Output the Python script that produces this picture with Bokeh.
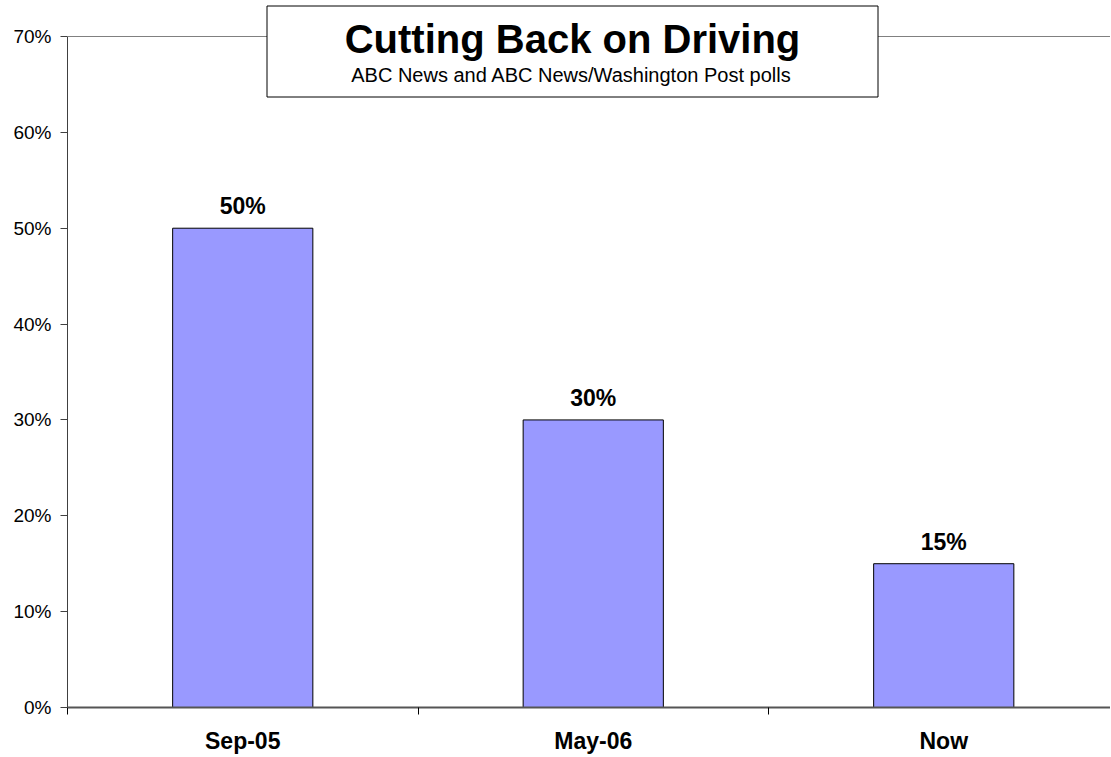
from bokeh.plotting import figure
from bokeh.models import (Range1d, FixedTicker, PrintfTickFormatter, Span,
                          BoxAnnotation, Label, ColumnDataSource)
from bokeh.core.properties import value
from bokeh.embed import file_html
from bokeh.resources import INLINE

categories = ["Sep-05", "May-06", "Now"]
values = [50, 30, 15]
y_ticks = [0, 10, 20, 30, 40, 50, 60, 70]
title_text = "Cutting Back on Driving"
subtitle_text = "ABC News and ABC News/Washington Post polls"

FONT = "Liberation Sans"

x_pos = [i + 0.5 for i in range(len(categories))]
bounds = [float(i) for i in range(len(categories) + 1)]
labels = [f"{v}%" for v in values]
src = ColumnDataSource(dict(x=x_pos, top=values, label=labels))

W, H = 1110, 756
LB, TB, BB = 67, 4, 49
frame_h = H - TB - BB
px_per_unit = (frame_h - 32) / 70.0
y_end = frame_h / px_per_unit

p = figure(width=W, height=H, output_backend="svg", toolbar_location=None,
           x_range=Range1d(0, (W - LB) / 350.5), y_range=Range1d(0, y_end),
           min_border_left=LB, min_border_right=0, min_border_top=TB,
           min_border_bottom=BB, background_fill_color="white",
           border_fill_color="white")
p.outline_line_color = None
p.xgrid.visible = False
p.ygrid.visible = False

p.vbar(x="x", top="top", width=0.4, bottom=0, source=src,
       fill_color="#9999FF", line_color="black", line_width=1)
p.text(x="x", y="top", text="label", source=src, text_align="center",
       text_baseline="alphabetic", y_offset=-22, text_font=value(FONT),
       text_font_style="bold", text_font_size="23px", text_color="black")

# x axis
xa = p.xaxis[0]
xa.ticker = FixedTicker(ticks=x_pos, minor_ticks=bounds)
xa.major_label_overrides = {x: c for x, c in zip(x_pos, categories)}
xa.major_tick_out = 0
xa.major_tick_in = 0
xa.minor_tick_out = 7
xa.minor_tick_in = 0
xa.minor_tick_line_color = "black"
xa.axis_line_color = "#555555"
xa.axis_line_width = 2
xa.major_label_standoff = 13
xa.major_label_text_font = FONT
xa.major_label_text_font_style = "bold"
xa.major_label_text_font_size = "23px"
xa.major_label_text_color = "black"

# y axis
ya = p.yaxis[0]
ya.bounds = (0, 70)
ya.ticker = FixedTicker(ticks=y_ticks, minor_ticks=[])
ya.formatter = PrintfTickFormatter(format="%d%%")
ya.major_tick_out = 7
ya.major_tick_in = 0
ya.major_tick_line_color = "#404040"
ya.axis_line_color = "#404040"
ya.major_label_standoff = 9
ya.major_label_text_font = FONT
ya.major_label_text_font_size = "19px"
ya.major_label_text_color = "black"

p.add_layout(Span(location=70, dimension="width", line_color="#808080",
                  line_width=1))

box = BoxAnnotation(left=266.5, right=877.5, top=5.5, bottom=96.5,
                    left_units="canvas", right_units="canvas",
                    top_units="canvas", bottom_units="canvas",
                    fill_color="white", fill_alpha=1.0,
                    line_color="black", line_alpha=1.0, line_width=1,
                    level="overlay")
p.add_layout(box)

p.add_layout(Label(x=572, y=38, x_units="canvas", y_units="canvas",
                   text=title_text, text_align="center",
                   text_baseline="alphabetic", text_font=FONT,
                   text_font_style="bold", text_font_size="40px",
                   text_color="black", level="overlay"))
p.add_layout(Label(x=571, y=74, x_units="canvas", y_units="canvas",
                   text=subtitle_text, text_align="center",
                   text_baseline="alphabetic", text_font=FONT,
                   text_font_size="20px", text_color="black",
                   level="overlay"))

open("out.html", "w").write(file_html(p, INLINE))
